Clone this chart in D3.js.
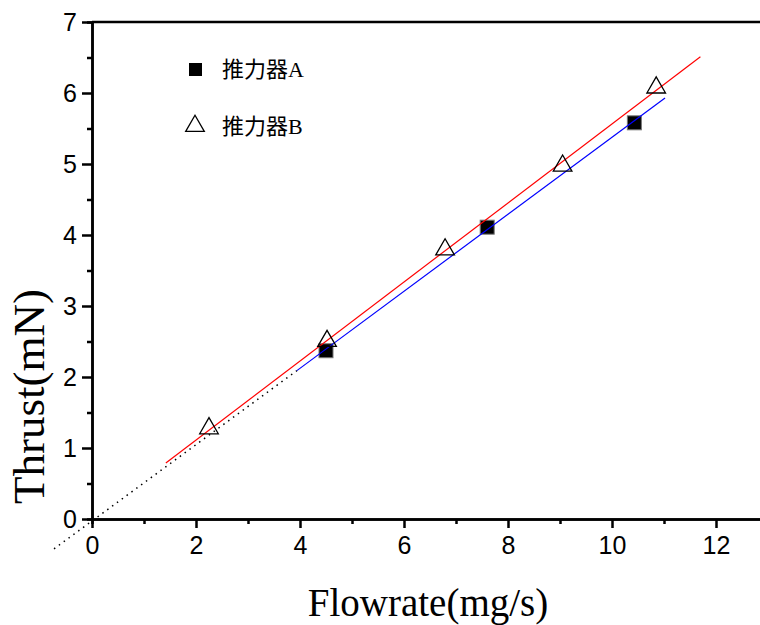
<!DOCTYPE html>
<html>
<head>
<meta charset="utf-8">
<script src="https://cdn.jsdelivr.net/npm/d3@7/dist/d3.min.js"></script>
<style>
    body { margin: 0; background: #fff; }
    .tick text { font-family: "Liberation Sans", Arial, sans-serif; font-size: 25px; fill: #000; }
    .axis path, .axis line { stroke: #000; stroke-width: 2.5; }
</style>
</head>
<body>
<div id="chart"></div>
<script>
// thruster A (filled squares)
const flowA = [4.50, 7.60, 10.43];
const thrustA = [2.37, 4.11, 5.58];
// thruster B (open triangles)
const flowB = [2.25, 4.52, 6.79, 9.05, 10.85];
const thrustB = [1.29, 2.52, 3.81, 4.99, 6.09];
// fitted lines, endpoints
const fitLineA = [[3.94, 2.09], [11.02, 5.93]];
const fitLineB = [[1.42, 0.79], [11.70, 6.51]];
const extLine = [[-0.73, -0.42], [3.94, 2.09]];
// axes
const xTicks = [0, 2, 4, 6, 8, 10, 12];
const yTicks = [0, 1, 2, 3, 4, 5, 6, 7];
const legendNames = ["推力器A", "推力器B"];

let margin = {top: 22, left: 92};
let width = 676, height = 497;

let svg = d3.select("#chart").append("svg")
    .attr("width", 760)
    .attr("height", 625)
    .append("g")
    .attr("transform", `translate(${margin.left},${margin.top})`);

let x = d3.scaleLinear().domain([0, 13]).range([0, width]);
let y = d3.scaleLinear().domain([0, 7]).range([height, 0]);

// minor ticks first, major on top
svg.append("g").attr("class", "axis")
    .attr("transform", `translate(0,${height})`)
    .call(d3.axisBottom(x).tickValues(d3.range(1, 13, 2)).tickSize(5).tickFormat(""));
svg.append("g").attr("class", "axis")
    .attr("transform", `translate(0,${height})`)
    .call(d3.axisBottom(x).tickValues(xTicks).tickSize(9).tickPadding(8).tickSizeOuter(0).tickFormat(d3.format("d")));

svg.append("g").attr("class", "axis")
    .call(d3.axisLeft(y).tickValues(d3.range(0.5, 7, 1)).tickSize(5).tickFormat(""));
svg.append("g").attr("class", "axis")
    .call(d3.axisLeft(y).tickValues(yTicks).tickSize(10).tickPadding(5).tickSizeOuter(0).tickFormat(d3.format("d")));

// top frame line
svg.append("line")
    .attr("x1", 0).attr("x2", width)
    .attr("y1", 0).attr("y2", 0)
    .attr("stroke", "#000").attr("stroke-width", 2.5);

let line = d3.line().x(d => x(d[0])).y(d => y(d[1]));

svg.append("path").attr("d", line(extLine))
    .attr("fill", "none").attr("stroke", "#000")
    .attr("stroke-width", 1.5).attr("stroke-dasharray", "1.5,4.5");

// squares
svg.selectAll(".sq").data(flowA).enter()
    .append("rect")
    .attr("class", "sq")
    .attr("x", d => x(d) - 7)
    .attr("y", (d, i) => y(thrustA[i]) - 7)
    .attr("width", 14).attr("height", 14)
    .attr("fill", "#000").attr("stroke", "#777").attr("stroke-width", 1);

svg.append("path").attr("d", line(fitLineB))
    .attr("fill", "none").attr("stroke", "#ff0000").attr("stroke-width", 1.2);
svg.append("path").attr("d", line(fitLineA))
    .attr("fill", "none").attr("stroke", "#0000ff").attr("stroke-width", 1.2);

let tri = d3.symbol().type(d3.symbolTriangle).size(150);

svg.selectAll(".tri").data(flowB).enter()
    .append("path")
    .attr("class", "tri")
    .attr("d", tri)
    .attr("transform", (d, i) => `translate(${x(d)},${y(thrustB[i]) + 1})`)
    .attr("fill", "none").attr("stroke", "#000").attr("stroke-width", 1.3);

// legend
let legend = svg.append("g").attr("transform", "translate(103,47)");
legend.append("rect")
    .attr("x", -6).attr("y", -6).attr("width", 13).attr("height", 13)
    .attr("fill", "#000");
legend.append("path").attr("d", tri)
    .attr("transform", "translate(0,57)")
    .attr("fill", "none").attr("stroke", "#000").attr("stroke-width", 1.3);
legend.selectAll("text").data(legendNames).enter()
    .append("text")
    .attr("x", 27)
    .attr("y", (d, i) => 8 + i * 57)
    .style("font-family", "'Liberation Serif', 'Noto Sans CJK SC', serif")
    .style("font-size", "22px")
    .text(d => d);

// axis titles
svg.append("text")
    .attr("x", width / 2 - 2)
    .attr("y", height + 97)
    .attr("text-anchor", "middle")
    .style("font-family", "'Liberation Serif', 'Times New Roman', serif")
    .style("font-size", "39px")
    .text("Flowrate(mg/s)");

svg.append("text")
    .attr("transform", `translate(-48,${height / 2 + 126}) rotate(-90)`)
    .attr("text-anchor", "middle")
    .style("font-family", "'Liberation Serif', 'Times New Roman', serif")
    .style("font-size", "45px")
    .text("Thrust(mN)");
</script>
</body>
</html>
